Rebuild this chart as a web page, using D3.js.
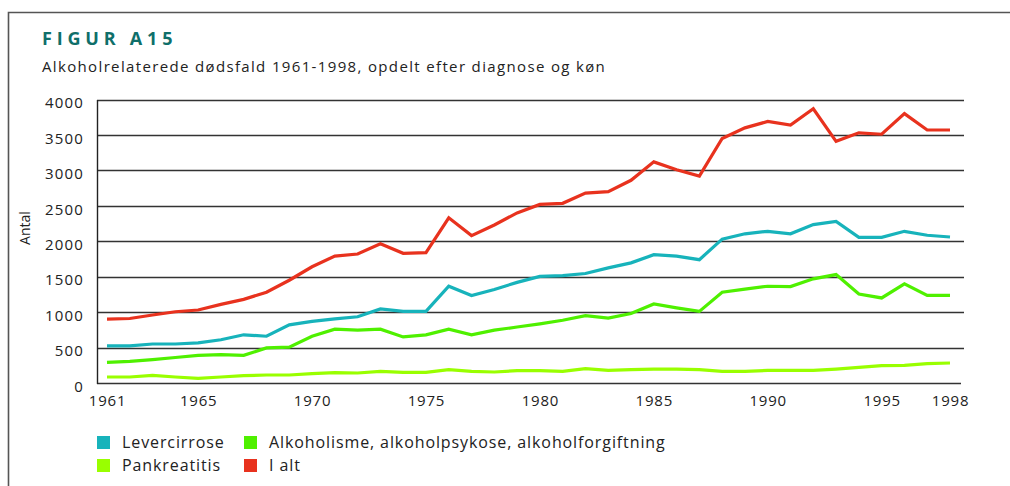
<!DOCTYPE html>
<html>
<head>
<meta charset="utf-8">
<script src="https://cdn.jsdelivr.net/npm/d3@7"></script>
<style>
  body { margin: 0; background: #fff; }
  svg { display: block; font-family: "Open Sans", sans-serif; }
</style>
</head>
<body>
<div id="chart"></div>
<script>
const years = [1961, 1962, 1963, 1964, 1965, 1966, 1967, 1968, 1969, 1970, 1971, 1972, 1973, 1974, 1975, 1976, 1977, 1978, 1979,
  1980, 1981, 1982, 1983, 1984, 1985, 1986, 1987, 1988, 1989, 1990, 1991, 1992, 1993, 1994, 1995, 1996, 1997, 1998];
const iAlt = [900, 910, 960, 1005, 1030, 1110, 1180, 1280, 1450, 1640, 1790, 1820, 1965, 1830, 1840, 2330, 2080, 2230, 2400,
  2520, 2535, 2680, 2700, 2860, 3120, 3010, 2920, 3450, 3600, 3690, 3640, 3870, 3410, 3530, 3510, 3800, 3570, 3570];
const levercirrose = [525, 525, 550, 550, 565, 610, 680, 660, 820, 870, 905, 935, 1045, 1010, 1010, 1365, 1235, 1320, 1420,
  1505, 1515, 1545, 1625, 1695, 1810, 1790, 1740, 2030, 2105, 2140, 2105, 2235, 2280, 2055, 2055, 2140, 2085, 2060];
const alkoholisme = [290, 305, 330, 360, 390, 400, 390, 495, 505, 660, 760, 745, 760, 650, 680, 760, 680, 745, 790,
  835, 885, 950, 915, 980, 1115, 1060, 1010, 1280, 1325, 1365, 1360, 1470, 1530, 1255, 1200, 1400, 1235, 1235];
const pankreatitis = [85, 85, 108, 85, 66, 85, 103, 113, 113, 131, 146, 141, 164, 150, 150, 188, 164, 155, 174,
  174, 164, 202, 178, 188, 197, 197, 188, 164, 164, 178, 178, 178, 197, 221, 244, 248, 272, 282];

const xTicks = [1961, 1965, 1970, 1975, 1980, 1985, 1990, 1995, 1998];
const yTicks = [0, 500, 1000, 1500, 2000, 2500, 3000, 3500, 4000];

const series = [
  { name: "Pankreatitis", values: pankreatitis, color: "#99ff00" },
  { name: "Alkoholisme, alkoholpsykose, alkoholforgiftning", values: alkoholisme, color: "#4ff000" },
  { name: "Levercirrose", values: levercirrose, color: "#17b3bb" },
  { name: "I alt", values: iAlt, color: "#e8321e" }
];
const legendOrder = ["Levercirrose", "Alkoholisme, alkoholpsykose, alkoholforgiftning", "Pankreatitis", "I alt"];

const width = 1010;
const height = 486;

const svg = d3.select("#chart").append("svg").attr("width", width).attr("height", height);

// frame
svg.append("path")
  .attr("d", "M8.5,486V12.5H1010")
  .attr("fill", "none")
  .attr("stroke", "#555")
  .attr("stroke-width", 1.6);

// titles
svg.append("text")
  .attr("x", 42)
  .attr("y", 45)
  .attr("fill", "#0f6f6a")
  .attr("font-size", 18)
  .attr("font-weight", "bold")
  .attr("letter-spacing", 4.8)
  .text("FIGUR A15");

svg.append("text")
  .attr("x", 42)
  .attr("y", 72)
  .attr("fill", "#222")
  .attr("font-size", 15)
  .attr("letter-spacing", 1.35)
  .text("Alkoholrelaterede dødsfald 1961-1998, opdelt efter diagnose og køn");

const x = d3.scaleLinear().domain([1961, 1998]).range([107, 950]);
const y = d3.scaleLinear().domain([0, 4000]).range([383, 99.5]);

// grid
const grid = svg.append("g");
grid.selectAll("line")
  .data(yTicks)
  .enter()
  .append("line")
  .attr("x1", 97)
  .attr("x2", (d) => (d === 0 ? 961 : 964))
  .attr("y1", (d) => Math.round(y(d)) + 0.5)
  .attr("y2", (d) => Math.round(y(d)) + 0.5)
  .attr("stroke", "#333")
  .attr("stroke-width", 1.3);

svg.append("line")
  .attr("x1", 97.5)
  .attr("x2", 97.5)
  .attr("y1", Math.round(y(4000)))
  .attr("y2", Math.round(y(0)) + 1)
  .attr("stroke", "#222")
  .attr("stroke-width", 1.4);

// y axis labels
const yAxis = svg.append("g")
  .attr("transform", "translate(84,0)")
  .call(d3.axisLeft(y).tickValues(yTicks).tickFormat(d3.format("d")).tickSize(0).tickPadding(0));
yAxis.select(".domain").remove();
yAxis.selectAll("text")
  .attr("dy", "0.55em")
  .attr("font-family", "Open Sans, sans-serif")
  .attr("font-size", 15)
  .attr("letter-spacing", 1.2)
  .attr("fill", "#222");

// x axis labels
const xAxis = svg.append("g")
  .attr("transform", "translate(0,395)")
  .call(d3.axisBottom(x).tickValues(xTicks).tickFormat(d3.format("d")).tickSize(0).tickPadding(0));
xAxis.select(".domain").remove();
xAxis.selectAll("text")
  .attr("font-family", "Open Sans, sans-serif")
  .attr("font-size", 15)
  .attr("letter-spacing", 0.8)
  .attr("fill", "#222");

svg.append("text")
  .attr("transform", "translate(30,228) rotate(-90)")
  .attr("text-anchor", "middle")
  .attr("font-family", "Open Sans, sans-serif")
  .attr("font-size", 14)
  .attr("fill", "#222")
  .text("Antal");

// lines
const line = d3.line()
  .x((d, i) => x(years[i]))
  .y((d) => y(d));

svg.append("g")
  .selectAll("path")
  .data(series)
  .enter()
  .append("path")
  .attr("d", (d) => line(d.values))
  .attr("fill", "none")
  .attr("stroke", (d) => d.color)
  .attr("stroke-width", 3.2)
  .attr("stroke-linejoin", "miter");

// legend
const legendPos = [
  { x: 97, y: 436 },
  { x: 244, y: 436 },
  { x: 97, y: 459 },
  { x: 244, y: 459 }
];
const legend = svg.append("g")
  .selectAll("g")
  .data(legendOrder.map((n) => series.find((s) => s.name === n)))
  .enter()
  .append("g")
  .attr("transform", (d, i) => `translate(${legendPos[i].x},${legendPos[i].y})`);
legend.append("rect")
  .attr("width", 13)
  .attr("height", 13)
  .attr("fill", (d) => d.color);
legend.append("text")
  .attr("x", 25)
  .attr("y", 12)
  .attr("font-size", 16)
  .attr("letter-spacing", 0.9)
  .attr("fill", "#222")
  .text((d) => d.name);
</script>
</body>
</html>
